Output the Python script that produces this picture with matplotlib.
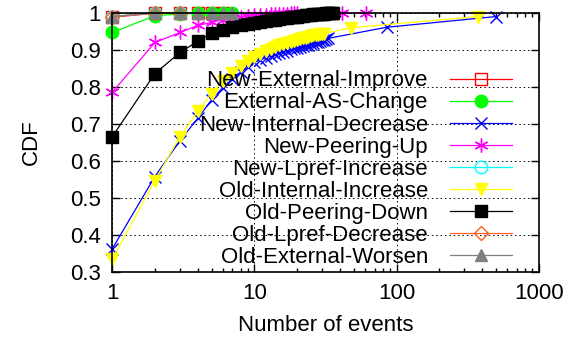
import matplotlib
matplotlib.use("Agg")
import matplotlib.pyplot as plt
from matplotlib.ticker import LogLocator, NullFormatter

plt.rcParams['font.family'] = ['Liberation Sans', 'DejaVu Sans']
plt.rcParams['font.size'] = 16

# CDF of number of events per category
x_ext_improve = [1, 2, 3, 4, 5, 6]
y_ext_improve = [0.988, 0.999, 1.0, 1.0, 1.0, 1.0]

x_as_change = [1, 2, 3, 4, 5, 6, 7]
y_as_change = [0.947, 0.992, 0.997, 0.999, 1.0, 1.0, 1.0]

x_int_decrease = list(range(1, 34)) + [85, 500]
y_int_decrease = [0.362, 0.558, 0.655, 0.715, 0.765, 0.798, 0.822, 0.840,
                  0.855, 0.866, 0.873, 0.879, 0.884, 0.888, 0.892, 0.895,
                  0.898, 0.901, 0.904, 0.906, 0.908, 0.910, 0.912, 0.914,
                  0.916, 0.918, 0.920, 0.922, 0.924, 0.926, 0.927, 0.929,
                  0.931, 0.961, 0.99]

x_peering_up = list(range(1, 21)) + [41, 61]
y_peering_up = [0.785, 0.920, 0.947, 0.966, 0.974, 0.982, 0.986, 0.989,
                0.991, 0.993, 0.994, 0.995, 0.996, 0.997, 0.997, 0.998,
                0.998, 0.999, 0.999, 0.999, 0.9995, 1.0]

x_lpref_increase = [1, 2, 3]
y_lpref_increase = [0.99, 1.0, 1.0]

x_int_increase = list(range(1, 32)) + [48, 375]
y_int_increase = [0.334, 0.547, 0.666, 0.734, 0.782, 0.815, 0.838, 0.856,
                  0.870, 0.882, 0.890, 0.897, 0.903, 0.908, 0.912, 0.916,
                  0.919, 0.922, 0.925, 0.927, 0.929, 0.931, 0.933, 0.935,
                  0.937, 0.939, 0.940, 0.941, 0.942, 0.943, 0.944, 0.960,
                  0.99]

x_peering_down = list(range(1, 37))
y_peering_down = [0.665, 0.836, 0.893, 0.923, 0.945, 0.955, 0.962, 0.966,
                  0.969, 0.972, 0.975, 0.978, 0.980, 0.982, 0.984, 0.986,
                  0.987, 0.988, 0.989, 0.990, 0.991, 0.992, 0.993, 0.994,
                  0.995, 0.996, 0.996, 0.997, 0.997, 0.998, 0.998, 0.999,
                  0.999, 0.999, 1.0, 1.0]

x_lpref_decrease = [1, 2, 3]
y_lpref_decrease = [0.99, 1.0, 1.0]

x_ext_worsen = [1, 2, 3, 4, 5, 6, 7]
y_ext_worsen = [0.99, 1.0, 1.0, 1.0, 1.0, 1.0, 1.0]

y_ticks = [0.3, 0.4, 0.5, 0.6, 0.7, 0.8, 0.9, 1.0]
y_ticklabels = ["0.3", "0.4", "0.5", "0.6", "0.7", "0.8", "0.9", "1"]
x_ticks = [1, 10, 100, 1000]
x_ticklabels = ["1", "10", "100", "1000"]

series = [
    ("New-External-Improve", x_ext_improve, y_ext_improve, "#ff0000", "s", "none"),
    ("External-AS-Change", x_as_change, y_as_change, "#00ff00", "o", "#00ff00"),
    ("New-Internal-Decrease", x_int_decrease, y_int_decrease, "#0000ff", "x", "#0000ff"),
    ("New-Peering-Up", x_peering_up, y_peering_up, "#ff00ff", "*", "#ff00ff"),
    ("New-Lpref-Increase", x_lpref_increase, y_lpref_increase, "#00ffff", "o", "none"),
    ("Old-Internal-Increase", x_int_increase, y_int_increase, "#ffff00", "v", "#ffff00"),
    ("Old-Peering-Down", x_peering_down, y_peering_down, "#000000", "s", "#000000"),
    ("Old-Lpref-Decrease", x_lpref_decrease, y_lpref_decrease, "#ff6020", "D", "none"),
    ("Old-External-Worsen", x_ext_worsen, y_ext_worsen, "#808080", "^", "#808080"),
]

fig = plt.figure(figsize=(5.69, 3.47), dpi=100)
ax = fig.add_axes([0.197, 0.216, 0.75, 0.747])

for label, xs, ys, col, mk, fc in series:
    ms = 9
    if mk == "*":
        mk = (6, 2, 0)  # asterisk
        ms = 10
    if mk == "D":
        ms = 7
    ax.plot(xs, ys, color=col, lw=0.9, marker=mk, markersize=ms,
            markerfacecolor=fc, markeredgecolor=col, markeredgewidth=1.0,
            label=label, clip_on=False)

ax.set_xscale("log")
ax.set_xlim(1, 1000)
ax.set_ylim(0.3, 1.0)
ax.set_yticks(y_ticks, y_ticklabels)
ax.set_xticks(x_ticks, x_ticklabels)
ax.xaxis.set_minor_locator(LogLocator(base=10, subs=range(2, 10)))
ax.xaxis.set_minor_formatter(NullFormatter())

ax.tick_params(which="both", direction="in", top=True, right=True, width=1)
ax.tick_params(which="major", length=6, pad=8)
ax.tick_params(which="minor", length=3)
ax.grid(True, which="major", color="black", linestyle=(0, (1.5, 3)), lw=0.7)
for sp in ax.spines.values():
    sp.set_linewidth(1.2)

ax.set_xlabel("Number of events", labelpad=8)
ax.set_ylabel("CDF", labelpad=20)

leg = ax.legend(loc="upper right", bbox_to_anchor=(0.938, 0.778), frameon=False,
                markerfirst=False, handlelength=2.8, handletextpad=1.0,
                labelspacing=0.05, borderaxespad=0, borderpad=0, fontsize=16)

fig.savefig("out.png", dpi=100)
